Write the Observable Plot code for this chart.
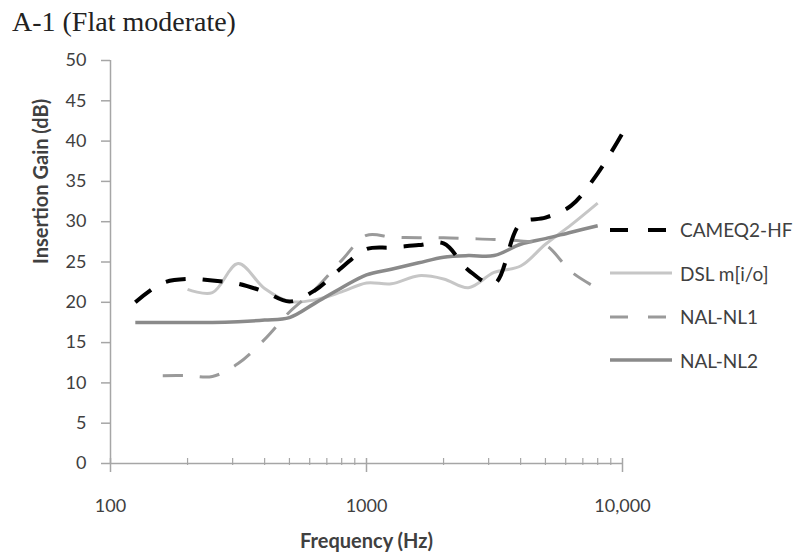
<!DOCTYPE html>
<html><head><meta charset="utf-8">
<script src="https://cdn.jsdelivr.net/npm/d3@7"></script>
<script src="https://cdn.jsdelivr.net/npm/@observablehq/plot@0.6"></script>
<style>
body{margin:0;background:#fff;width:799px;height:552px;overflow:hidden;position:relative;font-family:Lato,sans-serif}
#title{position:absolute;left:12px;top:6px;font-family:"Liberation Serif",serif;font-size:28px;color:#222;white-space:nowrap;z-index:2}
#chart{position:absolute;left:0;top:0}
#legend{position:absolute;left:610px;top:208px;z-index:2}
.row{display:flex;align-items:center;height:43.5px;font-size:19px;color:#404040;white-space:nowrap}
.row svg{margin-right:8px}
</style></head><body>
<div id="chart"></div>
<div id="title">A-1 (Flat moderate)</div>
<div id="legend"></div>
<script>
// ---- data ----
const seriesNames = ["CAMEQ2-HF", "DSL m[i/o]", "NAL-NL1", "NAL-NL2"];

const freqCAMEQ = [125,160,200,250,315,400,500,630,800,1000,1250,1600,2000,2500,3150,4000,5000,6300,8000,10000];
const gainCAMEQ = [20.0,22.4,22.9,22.7,22.3,21.3,20.1,21.5,24.3,26.6,26.8,27.1,27.3,24.0,22.3,29.8,30.5,32.0,36.0,41.0];

const freqDSL = [200,250,315,400,500,630,800,1000,1250,1600,2000,2500,3150,4000,5000,6300,8000];
const gainDSL = [21.6,21.2,24.8,21.7,20.1,20.3,21.3,22.4,22.3,23.3,22.9,21.8,23.7,24.5,27.2,29.6,32.3];

const freqNL1 = [160,200,250,315,400,500,630,800,1000,1250,1600,2000,2500,3150,4000,5000,6300,8000];
const gainNL1 = [10.9,10.9,10.8,12.4,15.4,18.8,21.6,25.2,28.3,28.1,28.0,28.0,27.9,27.8,27.6,27.1,23.8,21.7];

const freqNL2 = [125,160,200,250,315,400,500,630,800,1000,1250,1600,2000,2500,3150,4000,5000,6300,8000];
const gainNL2 = [17.5,17.5,17.5,17.5,17.6,17.8,18.1,19.9,21.8,23.4,24.1,24.9,25.6,25.8,25.8,27.2,27.9,28.7,29.5];

const yTicks = [0,5,10,15,20,25,30,35,40,45,50];
const xMajorTicks = [100, 1000, 10000];
const xTickLabels = ["100", "1000", "10,000"];
const xMinorTicks = [200,300,400,500,600,700,800,900,2000,3000,4000,5000,6000,7000,8000,9000];

const titleText = "A-1 (Flat moderate)";
const xLabel = "Frequency (Hz)";
const yLabel = "Insertion Gain (dB)";

// ---- styles ----
const strokes = ["#000000", "#c6c6c6", "#9a9a9a", "#8a8a8a"];
const widths = [4, 3, 3, 3.5];
const dashes = ["20,17", null, "20,17", null];
const axisColor = "#a6a6a6";
const textColor = "#404040";

const freqs = [freqCAMEQ, freqDSL, freqNL1, freqNL2];
const gains = [gainCAMEQ, gainDSL, gainNL1, gainNL2];
const rows = seriesNames.map((name, k) => freqs[k].map((f, i) => ({series: name, f, g: gains[k][i]})));

document.getElementById("title").textContent = titleText;

const lineMarks = [1, 3, 2, 0].map(k => Plot.line(rows[k], {
  x: "f", y: "g", stroke: strokes[k], strokeWidth: widths[k],
  strokeDasharray: dashes[k] ?? undefined, curve: "catmull-rom", strokeLinecap: "butt"
}));

const chart = Plot.plot({
  width: 799, height: 552,
  marginLeft: 110, marginRight: 177, marginTop: 60, marginBottom: 89,
  x: {type: "log", domain: [100, 10000]},
  y: {domain: [0, 50]},
  style: {fontFamily: "Lato, sans-serif", fontSize: "18px", color: textColor, background: "transparent"},
  marks: [
    Plot.ruleX([100], {stroke: axisColor, strokeWidth: 1.5}),
    Plot.ruleY([0], {stroke: axisColor, strokeWidth: 1.5}),
    Plot.axisY({ticks: yTicks, tickSize: 9, text: null, stroke: axisColor, strokeWidth: 1.5, label: null}),
    Plot.axisY({ticks: yTicks, tickSize: 0, tickPadding: 24, fill: textColor, label: null, fontSize: 18}),
    Plot.axisX({ticks: xMajorTicks, tickSize: 14, dy: -5, text: null, stroke: axisColor, strokeWidth: 1.5, label: null}),
    Plot.axisX({ticks: xMinorTicks, tickSize: 7, dy: -5, text: null, stroke: axisColor, strokeWidth: 1.2, label: null}),
    Plot.axisX({ticks: xMajorTicks, tickSize: 0, tickPadding: 36, fill: textColor, label: null, fontSize: 18,
      tickFormat: d => xTickLabels[xMajorTicks.indexOf(d)]}),
    Plot.text([yLabel], {frameAnchor: "left", dx: -69, dy: 2, rotate: -90, fontWeight: "bold", fontSize: 20, fill: textColor}),
    Plot.text([xLabel], {frameAnchor: "bottom", dy: 84, fontWeight: "bold", fontSize: 20, fill: textColor}),
    ...lineMarks
  ]
});
document.getElementById("chart").appendChild(chart);

// ---- legend ----
const legend = document.getElementById("legend");
seriesNames.forEach((name, k) => {
  const row = document.createElement("div");
  row.className = "row";
  const ns = "http://www.w3.org/2000/svg";
  const svg = document.createElementNS(ns, "svg");
  svg.setAttribute("width", 62); svg.setAttribute("height", 10);
  const ln = document.createElementNS(ns, "line");
  ln.setAttribute("x1", 0); ln.setAttribute("x2", 62); ln.setAttribute("y1", 5); ln.setAttribute("y2", 5);
  ln.setAttribute("stroke", strokes[k]); ln.setAttribute("stroke-width", widths[k]);
  if (dashes[k]) ln.setAttribute("stroke-dasharray", "18,20");
  svg.appendChild(ln);
  row.appendChild(svg);
  const span = document.createElement("span");
  span.textContent = name;
  row.appendChild(span);
  legend.appendChild(row);
});
</script>
</body></html>
